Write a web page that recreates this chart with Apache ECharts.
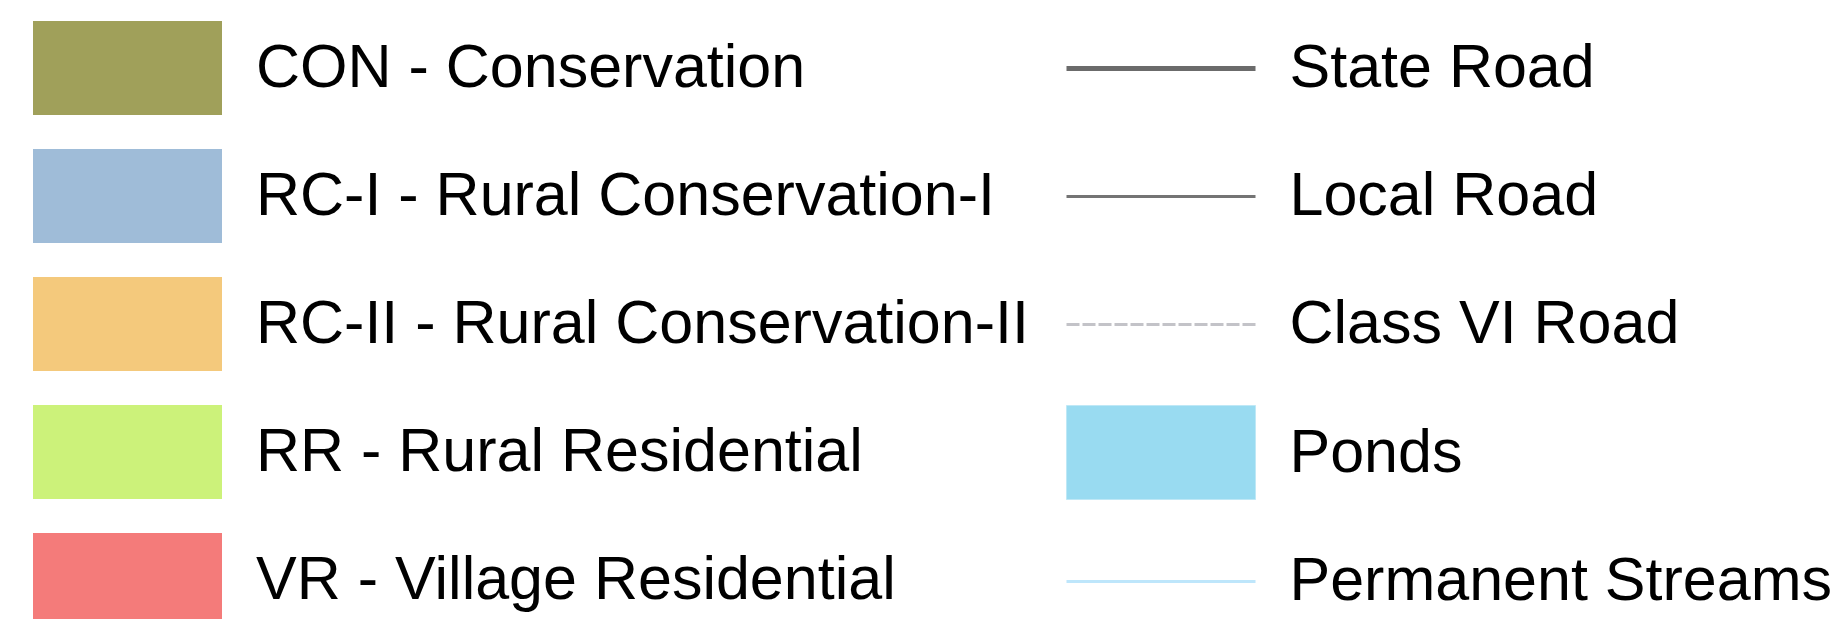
<!DOCTYPE html>
<html>
<head>
<meta charset="utf-8">
<script src="https://cdn.jsdelivr.net/npm/echarts@6/dist/echarts.min.js"></script>
<style>
html,body{margin:0;padding:0;background:#ffffff;}
#chart{width:1841px;height:619px;}
</style>
</head>
<body>
<div id="chart"></div>
<script>
// ---- legend content ----
const zoneNames = [
  'CON - Conservation',
  'RC-I - Rural Conservation-I',
  'RC-II - Rural Conservation-II',
  'RR - Rural Residential',
  'VR - Village Residential'
];
const featureNames = ['State Road', 'Local Road', 'Class VI Road', 'Ponds', 'Permanent Streams'];
const featureKinds = ['line', 'line', 'line', 'area', 'line'];

// ---- styles ----
const zoneColors = ['#a0a05a', '#9fbcd8', '#f4c97c', '#ccf27a', '#f47b7a'];
const featureStyles = {
  'State Road':        { color: '#6b6b6b', width: 5, dash: null },
  'Local Road':        { color: '#747474', width: 3, dash: null },
  'Class VI Road':     { color: '#c3c3c8', width: 3, dash: [13, 3] },
  'Ponds':             { color: '#99dbf1', border: '#bfe8f6' },
  'Permanent Streams': { color: '#bee6fb', width: 3, dash: null }
};

const FONT = 'Liberation Sans, Arial, Helvetica, sans-serif';
const ICON_W = 189, ICON_H = 94;

// legend line icon as a path that spans the full icon box (so rows keep equal height)
function lineIcon(width, dash) {
  const y0 = ICON_H / 2 + 0.5 - width / 2, y1 = y0 + width;
  let p = 'path://M0,0 M' + ICON_W + ',' + ICON_H;
  if (!dash) {
    p += ' M0,' + y0 + ' L' + ICON_W + ',' + y0 + ' L' + ICON_W + ',' + y1 + ' L0,' + y1 + ' Z';
  } else {
    for (let x = 0; x < ICON_W; x += dash[0] + dash[1]) {
      const x1 = Math.min(x + dash[0], ICON_W);
      p += ' M' + x + ',' + y0 + ' L' + x1 + ',' + y0 + ' L' + x1 + ',' + y1 + ' L' + x + ',' + y1 + ' Z';
    }
  }
  return p;
}

const series = [];
zoneNames.forEach((n, i) => {
  series.push({ type: 'bar', name: n, data: [], itemStyle: { color: zoneColors[i] } });
});
featureNames.forEach((n, i) => {
  const s = featureStyles[n];
  if (featureKinds[i] === 'line') {
    series.push({ type: 'line', name: n, data: [], symbol: 'none',
      itemStyle: { color: s.color },
      lineStyle: { color: s.color, width: s.width, type: s.dash || 'solid' } });
  } else {
    series.push({ type: 'bar', name: n, data: [],
      itemStyle: { color: s.color, borderColor: s.border, borderWidth: 1 } });
  }
});

const legendCommon = {
  orient: 'vertical',
  top: 21,
  height: 640,
  padding: 0,
  itemWidth: ICON_W,
  itemHeight: ICON_H,
  itemGap: 34,
  selectedMode: false,
  formatter: '{t|{name}}',
  textStyle: {
    fontFamily: FONT, fontSize: 61, color: '#000000',
    rich: { t: { fontFamily: FONT, fontSize: 61, color: '#000000', padding: [5, 0, 0, 29] } }
  }
};

const legend1 = Object.assign({}, legendCommon, {
  left: 33,
  data: zoneNames.map((n, i) => ({ name: n, icon: 'rect', itemStyle: { color: zoneColors[i], borderWidth: 0 } }))
});
const legend2 = Object.assign({}, legendCommon, {
  left: 1066,
  data: featureNames.map((n, i) => {
    const s = featureStyles[n];
    if (featureKinds[i] === 'line') {
      return { name: n, icon: lineIcon(s.width, s.dash),
        itemStyle: { color: s.color, opacity: 1, borderWidth: 0 } };
    }
    return { name: n, icon: 'rect', itemStyle: { color: s.color, borderColor: s.border, borderWidth: 1 } };
  })
});

const chart = echarts.init(document.getElementById('chart'), null, { renderer: 'canvas' });
chart.setOption({
  animation: false,
  backgroundColor: '#ffffff',
  grid: { left: 0, right: 0, top: 0, bottom: 0, show: false },
  xAxis: { type: 'category', show: false, data: [] },
  yAxis: { type: 'value', show: false },
  legend: [legend1, legend2],
  series: series
});
</script>
</body>
</html>
